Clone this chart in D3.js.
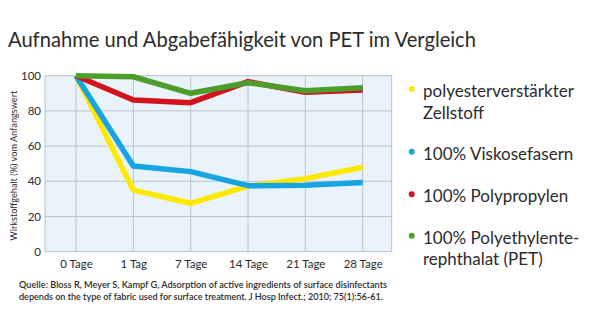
<!DOCTYPE html>
<html>
<head>
<meta charset="utf-8">
<script src="https://cdn.jsdelivr.net/npm/d3@7/dist/d3.min.js"></script>
<style>
  html, body { margin: 0; padding: 0; background: #fff; }
  svg { display: block; }
  text { font-family: "Source Sans Pro", Lato, "Open Sans", sans-serif; fill: #2b2b2b; }
</style>
</head>
<body>
<svg id="chart" width="600" height="327"></svg>
<script>
// Time points and retained active-ingredient content (% of initial value)
const categories = ["0 Tage", "1 Tag", "7 Tage", "14 Tage", "21 Tage", "28 Tage"];
const yTicks = [0, 20, 40, 60, 80, 100];

const polyesterZellstoff = [100, 35, 27.5, 37.3, 41.5, 48];
const viskose = [100, 48.7, 45.5, 37.5, 37.8, 39.3];
const polypropylen = [100, 86.2, 84.7, 96.6, 90.6, 91.9];
const pet = [100, 99.4, 90, 96, 91.5, 93.2];

const seriesNames = [
  ["polyesterverstärkter", "Zellstoff"],
  ["100% Viskosefasern"],
  ["100% Polypropylen"],
  ["100% Polyethylente-", "rephthalat (PET)"]
];
const seriesColors = ["#fde800", "#16a4e3", "#d2121c", "#4c9d2a"];
const seriesValues = [polyesterZellstoff, viskose, polypropylen, pet];

const svg = d3.select("#chart");

// Squeeze a text element horizontally to a given width
function fitWidth(sel, width) {
  sel.attr("textLength", width).attr("lengthAdjust", "spacingAndGlyphs");
}

// Title
svg.append("text")
  .attr("x", 8).attr("y", 47)
  .attr("font-size", 22)
  .text("Aufnahme und Abgabefähigkeit von PET im Vergleich")
  .call(fitWidth, 468);

// Plot frame
const plot = { left: 45, right: 391.7, top: 75.7, bottom: 251.7 };

const x = d3.scalePoint().domain(categories).range([76, 362.7]);
const y = d3.scaleLinear().domain([0, 100]).range([plot.bottom, plot.top]);

svg.append("rect")
  .attr("x", plot.left).attr("y", plot.top)
  .attr("width", plot.right - plot.left).attr("height", plot.bottom - plot.top)
  .attr("fill", "#eaf3fb");

// Horizontal grid
svg.append("g").selectAll("line").data(yTicks).join("line")
  .attr("x1", plot.left).attr("x2", plot.right)
  .attr("y1", d => y(d)).attr("y2", d => y(d))
  .attr("stroke", "#b9c2ca").attr("stroke-width", 1);

// Vertical grid at each time point
svg.append("g").selectAll("line").data(categories).join("line")
  .attr("x1", d => x(d)).attr("x2", d => x(d))
  .attr("y1", plot.top).attr("y2", plot.bottom)
  .attr("stroke", "#b9c2ca").attr("stroke-width", 1);

// Frame sides
[plot.left, plot.right].forEach(px => {
  svg.append("line")
    .attr("x1", px).attr("x2", px).attr("y1", plot.top).attr("y2", plot.bottom)
    .attr("stroke", "#b9c2ca").attr("stroke-width", 1);
});

// Y axis labels
const yAxis = d3.axisLeft(y).tickValues(yTicks).tickSize(0).tickPadding(4);
const gy = svg.append("g").attr("transform", `translate(${plot.left},0)`).call(yAxis);
gy.select(".domain").remove();
gy.selectAll("text").attr("font-size", 11.5).attr("fill", "#2b2b2b")
  .style("font-family", "\"Source Sans Pro\", Lato, sans-serif").attr("x", -4);

// X axis labels
const xAxis = d3.axisBottom(x).tickSize(0).tickPadding(8);
const gx = svg.append("g").attr("transform", `translate(0,${plot.bottom})`).call(xAxis);
gx.select(".domain").remove();
gx.selectAll("text").attr("font-size", 11.5).attr("fill", "#2b2b2b")
  .style("font-family", "\"Source Sans Pro\", Lato, sans-serif");

// Y axis title
svg.append("text")
  .attr("transform", `translate(17,${(plot.top + plot.bottom) / 2 + 2}) rotate(-90)`)
  .attr("text-anchor", "middle")
  .attr("font-size", 9.8)
  .text("Wirkstoffgehalt (%) vom Anfangswert")
  .call(fitWidth, 150);

// Series lines
const line = d3.line().x((d, i) => x(categories[i])).y(d => y(d));
seriesValues.forEach((vals, i) => {
  svg.append("path")
    .datum(vals)
    .attr("d", line)
    .attr("fill", "none")
    .attr("stroke", seriesColors[i])
    .attr("stroke-width", 5.5)
    .attr("stroke-linejoin", "round");
});

// Legend
const legendDotY = [89, 151.7, 194.3, 235.7];
const legend = svg.append("g");
seriesNames.forEach((lines, i) => {
  legend.append("circle")
    .attr("cx", 411.7).attr("cy", legendDotY[i]).attr("r", 3)
    .attr("fill", seriesColors[i]);
  const t = legend.append("text")
    .attr("x", 423).attr("y", legendDotY[i] + 8)
    .attr("font-size", 17);
  lines.forEach((s, k) => {
    t.append("tspan").attr("x", 423).attr("dy", k === 0 ? 0 : 21.5).text(s);
  });
});

// Source note
const sourceLines = [
  "Quelle: Bloss R, Meyer S, Kampf G, Adsorption of active ingredients of surface disinfectants",
  "depends on the type of fabric used for surface treatment. J Hosp Infect.; 2010; 75(1):56-61."
];
const sourceWidths = [368, 364];
sourceLines.forEach((s, k) => {
  svg.append("text")
    .attr("x", 19).attr("y", 288 + k * 12.3)
    .attr("font-size", 9.3)
    .attr("font-weight", 600)
    .text(s)
    .call(fitWidth, sourceWidths[k]);
});
</script>
</body>
</html>
